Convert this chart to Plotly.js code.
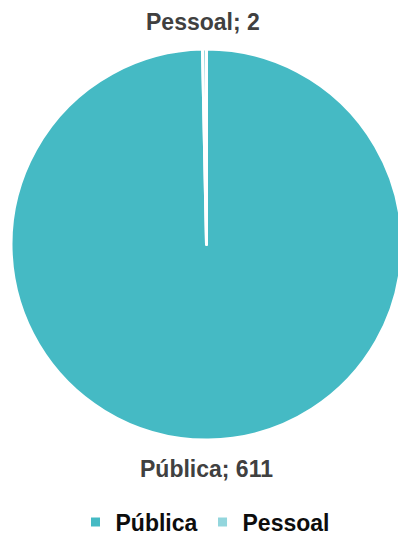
<!DOCTYPE html>
<html>
<head>
<meta charset="utf-8">
<script src="https://cdn.plot.ly/plotly-3.0.1.min.js"></script>
<style>html,body{margin:0;padding:0;background:#fff;overflow:hidden;width:398px;height:535px;}#chart{width:402px;height:535px;}</style>
</head>
<body>
<div id="chart"></div>
<script>
const categories = ["Pública", "Pessoal"];
const values = [611, 2];
const colors = ["#45bac4", "#93d6dd"];
// label placement (paper coords) for each category's data label
const labelX = [0.501, 0.491];
const labelY = [0.1234, 0.9589];

const trace = {
  type: "pie",
  labels: categories,
  values: values,
  sort: false,
  direction: "clockwise",
  rotation: 0,
  marker: { colors: colors, line: { color: "#ffffff", width: 3 } },
  textinfo: "none",
  hoverinfo: "label+value",
  automargin: false,
  domain: { x: [0, 1], y: [0.1776, 0.9084] }
};

const annotations = categories.map((c, i) => ({
  xref: "paper", yref: "paper",
  x: labelX[i], y: labelY[i],
  xanchor: "center", yanchor: "middle",
  showarrow: false,
  text: c + "; " + values[i],
  font: { family: "Liberation Sans, Arial, sans-serif", size: 23, color: "#404040", weight: "bold" }
}));

const layout = {
  width: 402,
  height: 535,
  margin: { l: 11, r: 0, t: 0, b: 0, autoexpand: false },
  paper_bgcolor: "#ffffff",
  showlegend: true,
  annotations: annotations,
  legend: {
    orientation: "h",
    xref: "container", yref: "container",
    x: 0.51, xanchor: "center",
    y: 0.024, yanchor: "middle",
    font: { family: "Liberation Sans, Arial, sans-serif", size: 23, color: "#0d0d0d", weight: "bold" },
    traceorder: "normal",
    itemwidth: 30
  }
};

Plotly.newPlot("chart", [trace], layout, { displayModeBar: false, staticPlot: true });
</script>
</body>
</html>
